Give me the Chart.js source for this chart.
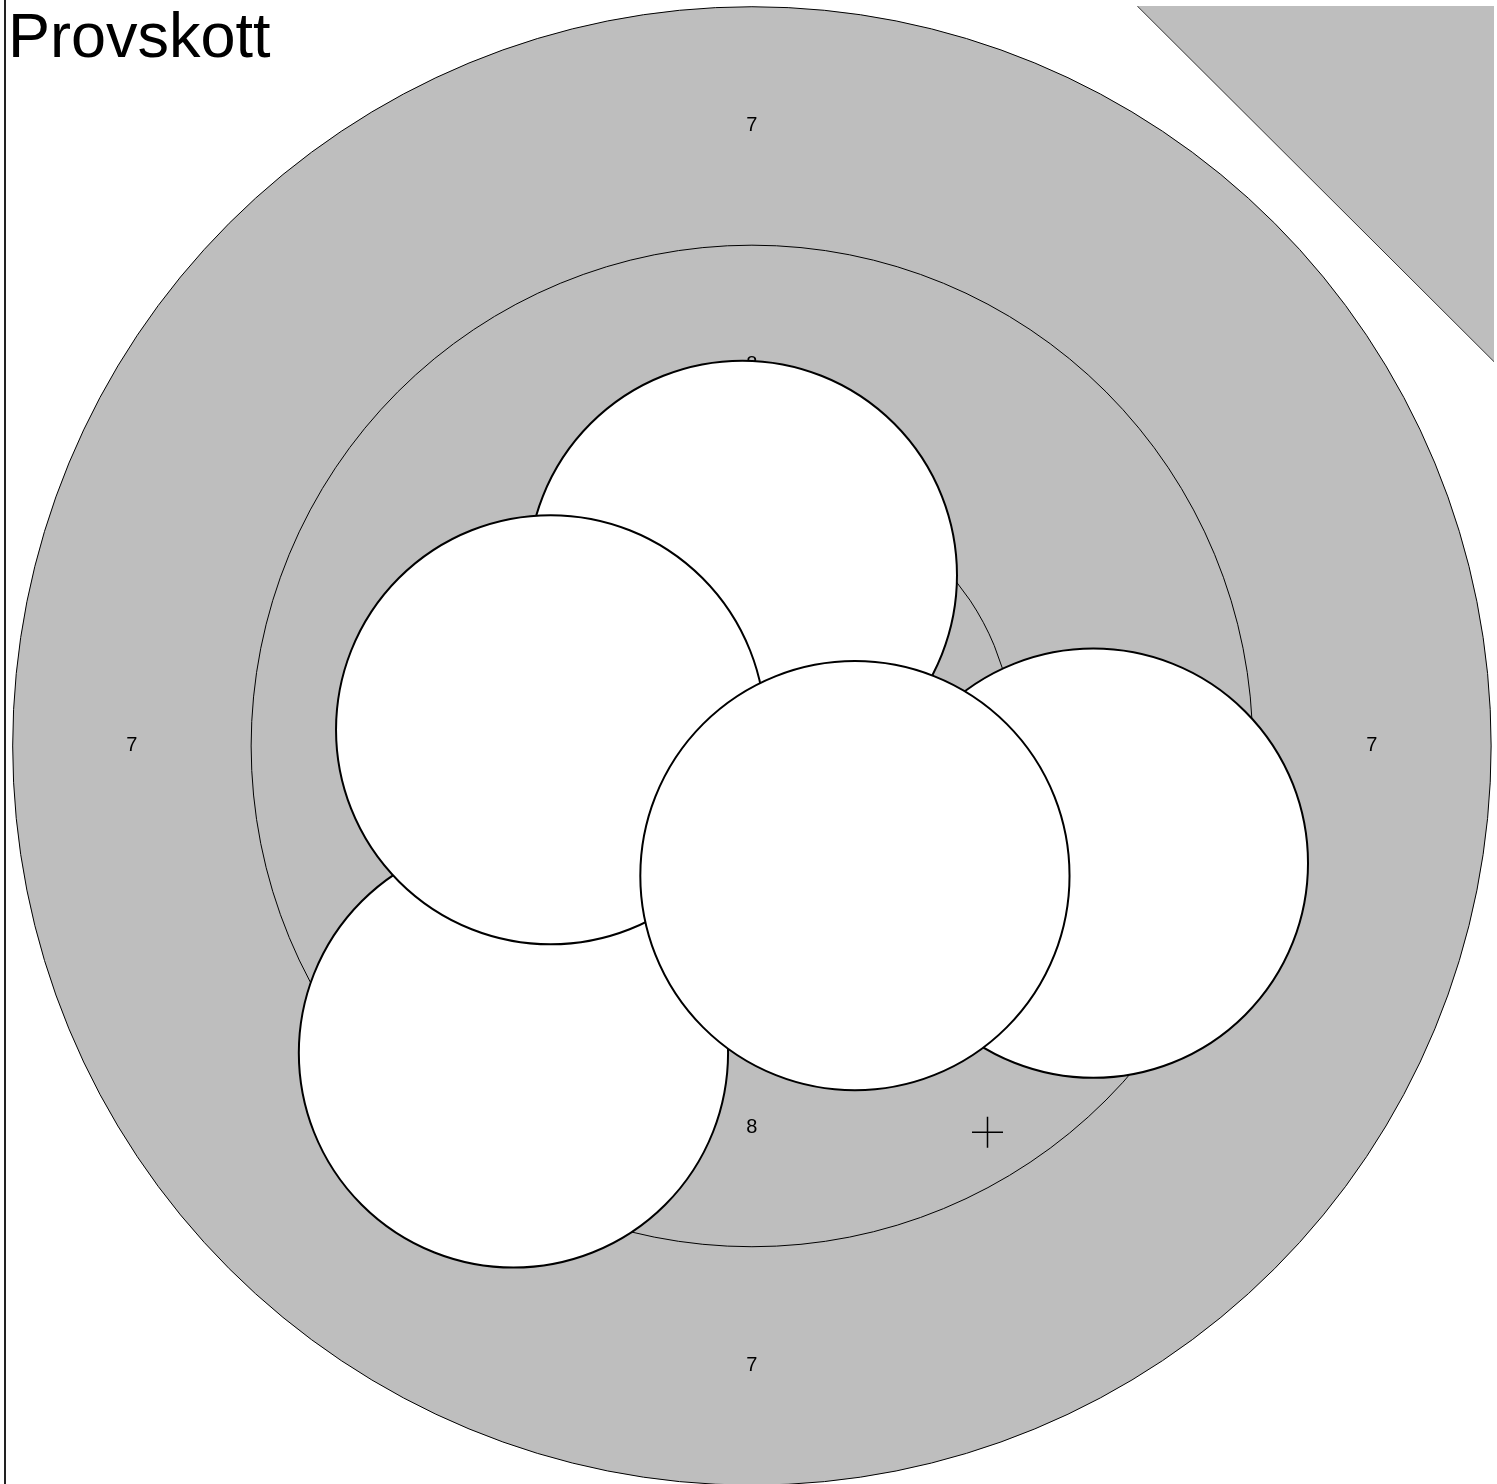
<!DOCTYPE html>
<html>
<head>
<meta charset="utf-8">
<script src="https://cdn.jsdelivr.net/npm/chart.js@4.4.1/dist/chart.umd.min.js"></script>
<style>
  body { margin: 0; background: #fff; }
  #wrap { width: 1497px; height: 1484px; position: relative; }
</style>
</head>
<body>
<div id="wrap"><canvas id="target"></canvas></div>
<script>
// target in mm (air rifle rings), shots as measured
const ringRadius = [7.75, 5.25, 2.75];
const ringLabels = ["7", "8", "9"];
const ringInner = [5.25, 2.75, 0.25];

// draw order: last one ends on top
const shotX = [-0.10, -2.50, -2.11, 3.58, 1.08];
const shotY = [1.79, -3.22, 0.17, -1.23, -1.36];
const caliber = 4.5;

const markX = [2.47];
const markY = [-4.05];

// sighting shot corner bar
const cornerX = [4.04, 7.78];
const cornerY = [7.76, 4.03];

const xMin = -7.82, xMax = 7.78;
const yMin = -7.74, yMax = 7.76;

const gray = "#bebebe";

function mmToPx(chart, mm) {
  const s = chart.scales.x;
  return s.getPixelForValue(mm) - s.getPixelForValue(0);
}

const ringLabelPlugin = {
  id: "ringLabels",
  afterDatasetDraw(chart, args) {
    if (args.meta.label !== "rings") return;
    const ctx = chart.ctx;
    const cx = chart.scales.x.getPixelForValue(0);
    const cy = chart.scales.y.getPixelForValue(0);
    ctx.save();
    ctx.fillStyle = "#000";
    ctx.font = "20px 'Liberation Sans', Arial, sans-serif";
    ctx.textAlign = "center";
    ctx.textBaseline = "middle";
    ringLabels.forEach((lab, i) => {
      const r = mmToPx(chart, (ringRadius[i] + ringInner[i]) / 2);
      ctx.fillText(lab, cx, cy - r);
      ctx.fillText(lab, cx, cy + r);
      ctx.fillText(lab, cx - r, cy);
      ctx.fillText(lab, cx + r, cy);
    });
    ctx.restore();
  },
  afterDraw(chart) {
    const ctx = chart.ctx;
    const a = chart.chartArea;
    ctx.save();
    ctx.strokeStyle = "#222";
    ctx.lineWidth = 2;
    ctx.beginPath();
    ctx.moveTo(a.left - 1, 0);
    ctx.lineTo(a.left - 1, chart.height);
    ctx.stroke();
    ctx.fillStyle = "#000";
    ctx.font = "63px 'Liberation Sans', Arial, sans-serif";
    ctx.textBaseline = "alphabetic";
    ctx.fillText("Provskott", a.left + 2, 57);
    ctx.restore();
  }
};

new Chart(document.getElementById("target"), {
  type: "scatter",
  data: {
    datasets: [
      {
        label: "corner",
        data: cornerX.map((x, i) => ({ x, y: cornerY[i] })),
        showLine: true,
        fill: "end",
        backgroundColor: gray,
        borderColor: "#333",
        borderWidth: 1,
        pointRadius: 0,
        order: 5
      },
      {
        label: "rings",
        data: ringRadius.map(() => ({ x: 0, y: 0 })),
        pointRadius: (c) => mmToPx(c.chart, ringRadius[c.dataIndex]),
        backgroundColor: gray,
        borderColor: "#000",
        borderWidth: 1,
        clip: false,
        order: 4
      },
      {
        label: "shots",
        data: shotX.map((x, i) => ({ x, y: shotY[i] })),
        pointRadius: (c) => mmToPx(c.chart, caliber / 2),
        backgroundColor: "#fff",
        borderColor: "#000",
        borderWidth: 2,
        order: 2
      },
      {
        label: "mark",
        data: markX.map((x, i) => ({ x, y: markY[i] })),
        pointStyle: "cross",
        pointRadius: 15.5,
        borderColor: "#000",
        borderWidth: 1.5,
        order: 1
      }
    ]
  },
  options: {
    responsive: true,
    maintainAspectRatio: false,
    animation: false,
    layout: { autoPadding: false, padding: { left: 6, top: 6, right: 3, bottom: 0 } },
    plugins: {
      legend: { display: false },
      tooltip: { enabled: false },
      title: { display: false }
    },
    elements: { point: { hoverRadius: 0 } },
    scales: {
      x: { type: "linear", min: xMin, max: xMax, display: false },
      y: { type: "linear", min: yMin, max: yMax, display: false }
    }
  },
  plugins: [ringLabelPlugin]
});
</script>
</body>
</html>
